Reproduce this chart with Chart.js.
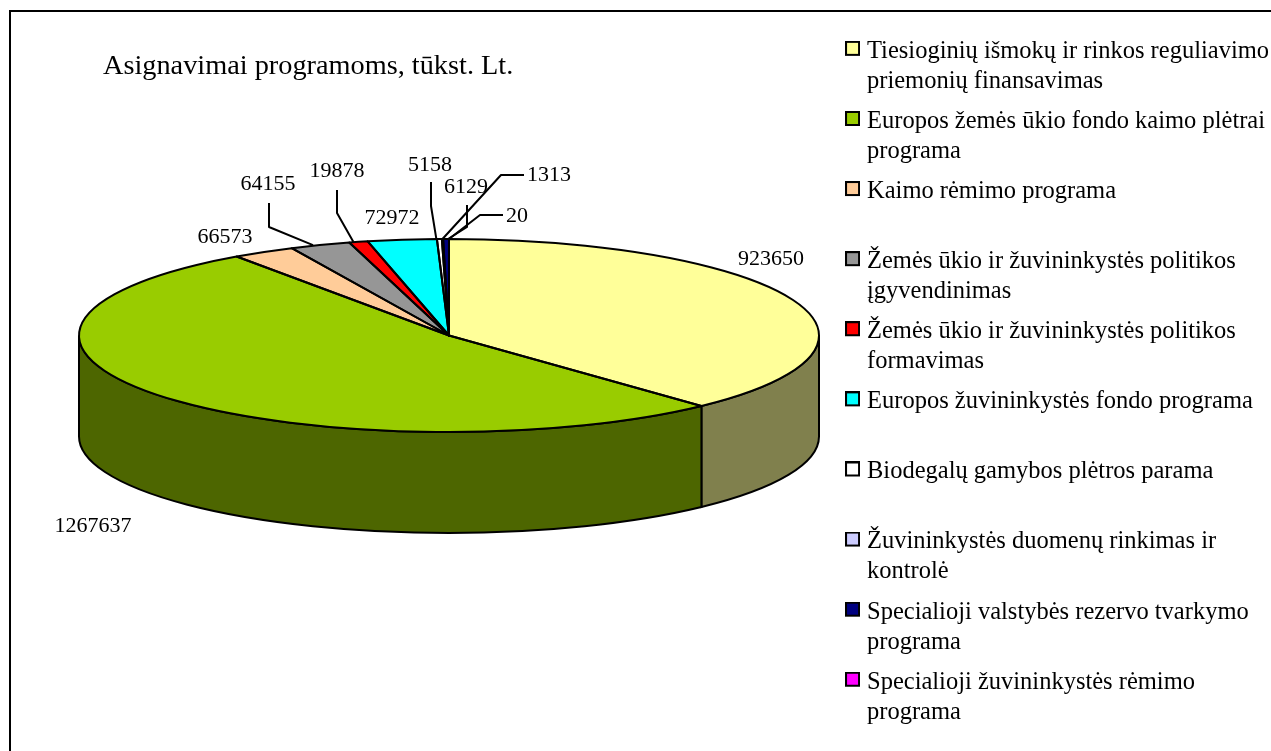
<!DOCTYPE html>
<html>
<head>
<meta charset="utf-8">
<title>Asignavimai programoms</title>
<script src="https://cdn.jsdelivr.net/npm/chart.js@4"></script>
<style>
  html, body { margin:0; padding:0; background:#fff; overflow:hidden; width:1271px; height:751px; }
  .frame { position:absolute; left:9px; top:10px; width:1300px; height:800px; border:2px solid #000; }
  canvas { position:absolute; left:0; top:0; }
</style>
</head>
<body>
<div class="frame"></div>
<canvas id="pie" width="1290" height="810"></canvas>
<script>
const chartTitle = 'Asignavimai programoms, tūkst. Lt.';

const categories = [
  ['Tiesioginių išmokų ir rinkos reguliavimo', 'priemonių finansavimas'],
  ['Europos žemės ūkio fondo kaimo plėtrai', 'programa'],
  ['Kaimo rėmimo programa', ''],
  ['Žemės ūkio ir žuvininkystės politikos', 'įgyvendinimas'],
  ['Žemės ūkio ir žuvininkystės politikos', 'formavimas'],
  ['Europos žuvininkystės fondo programa', ''],
  ['Biodegalų gamybos plėtros parama', ''],
  ['Žuvininkystės duomenų rinkimas ir', 'kontrolė'],
  ['Specialioji valstybės rezervo tvarkymo', 'programa'],
  ['Specialioji žuvininkystės rėmimo', 'programa']
];
const values = [923650, 1267637, 66573, 64155, 19878, 72972, 5158, 1313, 6129, 20];

const topColors  = ['#FFFF99', '#99CC00', '#FFCC99', '#969696', '#FF0000', '#00FFFF', '#FFFFFF', '#CCCCFF', '#000080', '#FF00FF'];
const sideColors = ['#80804D', '#4D6600', '#806650', '#4B4B4B', '#800000', '#008080', '#808080', '#666680', '#000040', '#800080'];

// where the value labels sit (centre of the text)
const labelSpots = [[771,259], [93,526], [225,237], [268,184], [337,171], [392,218], [430,165], [549,175], [466,187], [517,216]];
// elbows of the leader lines, null = no leader. Last point is joined to the slice rim.
const leaders = [
  null, null, null,
  [[269,203],[269,227]],
  [[337,190],[337,213]],
  null,
  [[431,182],[431,206]],
  [[524,175],[501,175]],
  [[467,205],[467,227]],
  [[503,215],[480,215]]
];
const leaderNudge = [0, 0, 0, -7, -5, 0, -3, 0, 2, 0];

// the flattened disc: centre on screen, squash and wall height
const discX = 449, discY = 335.5, squash = 0.2608, wallDepth = 101;
const serif = '"Liberation Serif", "Times New Roman", serif';

function rimPoint(arc, angle) {
  return [discX + arc.outerRadius * Math.cos(angle), discY + arc.outerRadius * squash * Math.sin(angle)];
}

// put the current path onto the squashed disc, line width stays untouched
function discArc(ctx, arc, a0, a1, dy, ccw) {
  ctx.save();
  ctx.translate(discX, discY + dy);
  ctx.scale(1, squash);
  ctx.arc(0, 0, arc.outerRadius, a0, a1, ccw);
  ctx.restore();
}

// legend marker: the legend's box/text gap is tied to the font size, so the box is an image.
// Empty strip at the bottom lifts the box a little above the text centre, as in the original.
function swatch(color) {
  const c = document.createElement('canvas');
  c.width = 15;
  c.height = 21;
  const g = c.getContext('2d');
  g.fillStyle = '#000';
  g.fillRect(0, 0, 15, 15);
  g.fillStyle = color;
  g.fillRect(2, 2, 11, 11);
  return c;
}

const pie3d = {
  id: 'pie3d',
  beforeDatasetsDraw(chart) {
    const ctx = chart.ctx;
    const arcs = chart.getDatasetMeta(0).data;
    // front wall, only the part of each slice below the horizontal
    ctx.lineWidth = 2;
    ctx.strokeStyle = '#000';
    arcs.forEach((arc, i) => {
      const a0 = Math.max(arc.startAngle, 0);
      const a1 = Math.min(arc.endAngle, Math.PI);
      if (a1 <= a0) return;
      ctx.beginPath();
      discArc(ctx, arc, a0, a1, 0, false);
      discArc(ctx, arc, a1, a0, wallDepth, true);
      ctx.closePath();
      ctx.fillStyle = sideColors[i];
      ctx.fill();
      ctx.stroke();
    });
    const first = arcs[0];
    ctx.save();
    ctx.translate(discX, discY);
    ctx.scale(1, squash);
    ctx.translate(-first.x, -first.y);
  },
  afterDatasetsDraw(chart) {
    const ctx = chart.ctx;
    ctx.restore();
    const arcs = chart.getDatasetMeta(0).data;
    ctx.lineWidth = 2;
    ctx.strokeStyle = '#000';
    ctx.lineJoin = 'round';
    arcs.forEach(arc => {
      ctx.beginPath();
      ctx.moveTo(discX, discY);
      discArc(ctx, arc, arc.startAngle, arc.endAngle, 0, false);
      ctx.closePath();
      ctx.stroke();
    });

    // leaders
    arcs.forEach((arc, i) => {
      if (!leaders[i]) return;
      const rim = rimPoint(arc, (arc.startAngle + arc.endAngle) / 2);
      ctx.beginPath();
      leaders[i].forEach((p, k) => k ? ctx.lineTo(p[0], p[1]) : ctx.moveTo(p[0], p[1]));
      ctx.lineTo(rim[0] + leaderNudge[i], rim[1]);
      ctx.stroke();
    });

    // value labels + title
    ctx.fillStyle = '#000';
    ctx.textBaseline = 'middle';
    ctx.textAlign = 'center';
    ctx.font = '22px ' + serif;
    values.forEach((v, i) => ctx.fillText(String(v), labelSpots[i][0], labelSpots[i][1]));
    ctx.textAlign = 'left';
    ctx.font = '28.3px ' + serif;
    ctx.fillText(chartTitle, 103, 67);
  }
};

new Chart(document.getElementById('pie'), {
  type: 'pie',
  data: {
    labels: categories,
    datasets: [{ data: values, backgroundColor: topColors, borderWidth: 0 }]
  },
  options: {
    responsive: false,
    animation: false,
    layout: { padding: { left: 79, top: 29, right: 11, bottom: 41 } },
    plugins: {
      tooltip: { enabled: false },
      legend: {
        position: 'right',
        align: 'start',
        labels: {
          usePointStyle: true,
          pointStyleWidth: 4.5,
          boxHeight: 4.5,
          padding: 10.1,
          color: '#000',
          font: { family: serif, size: 24.5, lineHeight: 30 / 24.5 },
          generateLabels: () => categories.map((lines, i) => ({
            text: lines,
            pointStyle: swatch(topColors[i]),
            index: i
          }))
        }
      }
    }
  },
  plugins: [pie3d]
});
</script>
</body>
</html>
